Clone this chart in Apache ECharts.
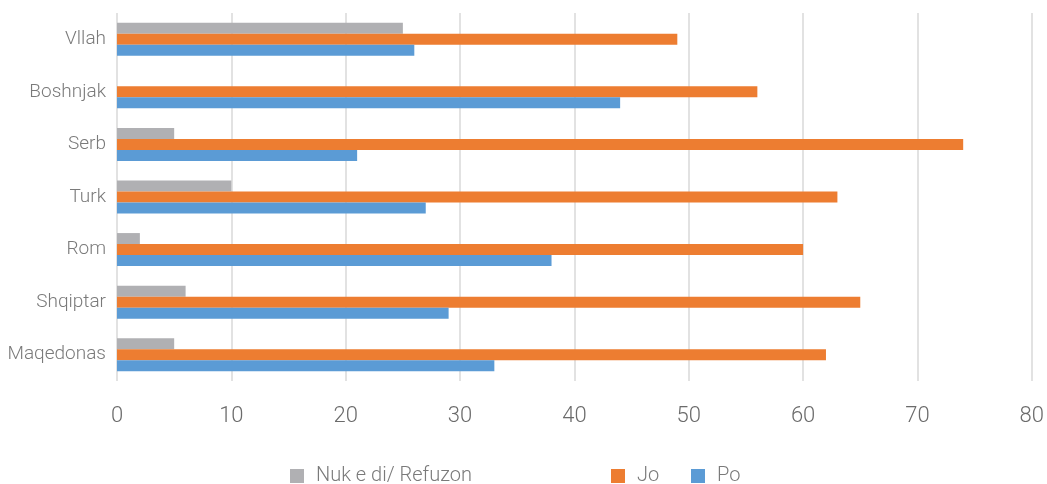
<!DOCTYPE html>
<html><head><meta charset="utf-8">
<script src="https://cdn.jsdelivr.net/npm/echarts@6/dist/echarts.min.js"></script>
<style>html,body{margin:0;padding:0;background:#fff}#c{width:1047px;height:484px}</style>
</head><body><div id="c"></div>
<script>
const categories = ['Maqedonas','Shqiptar','Rom','Turk','Serb','Boshnjak','Vllah'];
const poValues = [33, 29, 38, 27, 21, 44, 26];
const joValues = [62, 65, 60, 63, 74, 56, 49];
const nukValues = [5, 6, 2, 10, 5, 0, 25];
const xTicks = [0, 80, 10];

const FONT = 'Roboto';
const chart = echarts.init(document.getElementById('c'));
const legendBase = {
  top: 466, padding: 0, itemWidth: 14, itemHeight: 14, icon: 'rect',
  textStyle: {fontFamily: FONT, fontWeight: 300, fontSize: 20, color: '#7a7a7a', padding: [0,0,0,7]}
};
chart.setOption({
  animation: false,
  textStyle: {fontFamily: FONT},
  grid: {left: 117, right: 14, top: 13, bottom: 103, containLabel: false},
  legend: [
    Object.assign({}, legendBase, {left: 290, data: ['Nuk e di/ Refuzon']}),
    Object.assign({}, legendBase, {left: 611, data: ['Jo']}),
    Object.assign({}, legendBase, {left: 691, data: ['Po']})
  ],
  xAxis: {
    type: 'value', min: xTicks[0], max: xTicks[1], interval: xTicks[2],
    axisLine: {show: false}, axisTick: {show: false},
    splitLine: {lineStyle: {color: '#d9d9d9', width: 1.5}},
    axisLabel: {fontFamily: FONT, fontWeight: 300, fontSize: 22, color: '#6b6b6b', margin: 24}
  },
  yAxis: {
    type: 'category', data: categories,
    axisLine: {show: false}, axisTick: {show: false},
    axisLabel: {fontFamily: FONT, fontWeight: 300, fontSize: 19, color: '#7a7a7a', margin: 11}
  },
  series: [
    {name: 'Nuk e di/ Refuzon', type: 'bar', data: nukValues, barWidth: 11, barGap: '0%', itemStyle: {color: '#b0b0b3'}},
    {name: 'Jo', type: 'bar', data: joValues, barWidth: 11, barGap: '0%', itemStyle: {color: '#ed7d31'}},
    {name: 'Po', type: 'bar', data: poValues, barWidth: 11, barGap: '0%', itemStyle: {color: '#5b9bd5'}}
  ]
});
</script></body></html>
